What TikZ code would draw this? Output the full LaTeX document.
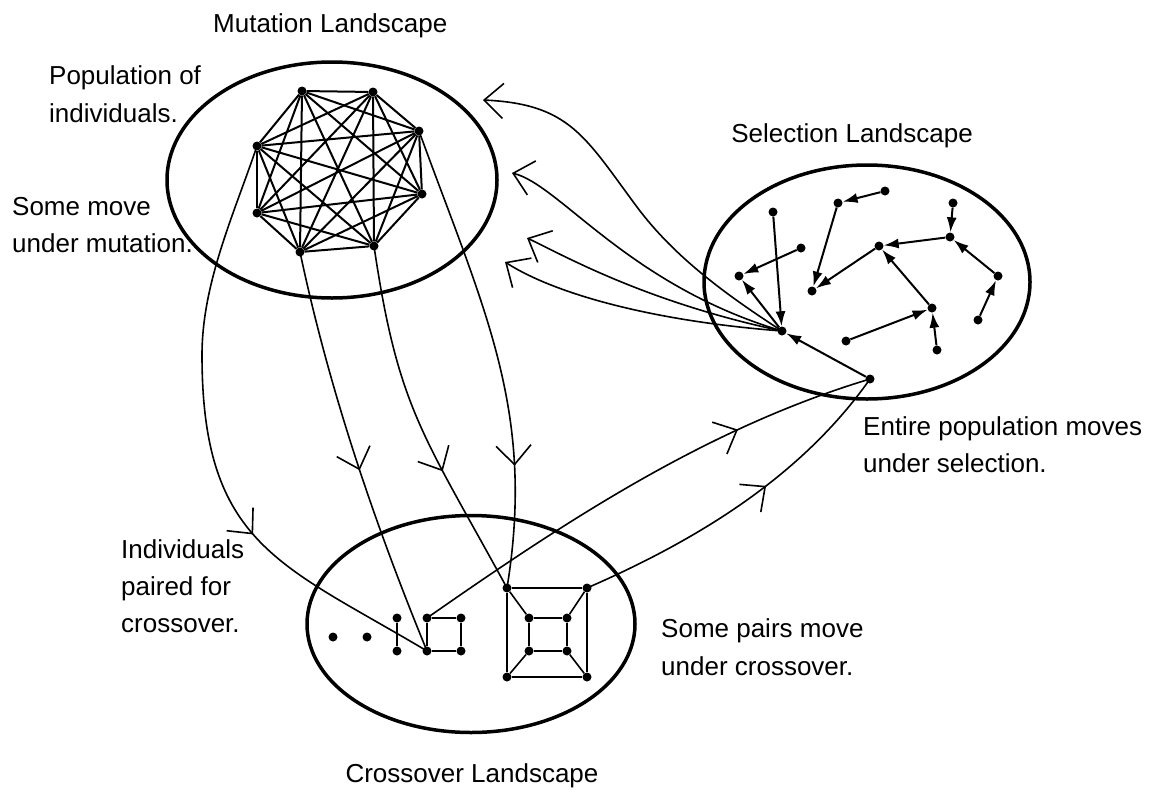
\documentclass[tikz,border=0pt]{standalone}
\usepackage{fontspec}
\setmainfont{Liberation Sans}
\usetikzlibrary{arrows.meta,decorations.markings,shapes.geometric}
\begin{document}
\begin{tikzpicture}[x=1pt,y=-1pt,
  dot/.style={circle,fill=black,inner sep=0pt,minimum size=9pt},
  land/.style={draw,ellipse,line width=3.5pt,inner sep=0pt},
  kedge/.style={line width=2pt},
  sel/.style={line width=2pt,-{Latex[length=15pt,width=10pt]}},
  flow/.style={line width=1.6pt},
  endbarb/.style={-{Straight Barb[length=19pt,width=35pt]}},
  midbarb/.style={postaction={decorate},decoration={markings,
      mark=at position #1 with {\arrow{Straight Barb[length=19pt,width=35pt]}}}},
  lbl/.style={anchor=base west,inner sep=0pt,font=\fontsize{26}{30}\selectfont},
]
\useasboundingbox (0,0) rectangle (1152,809);

% landscapes
\node[land,minimum width=330pt,minimum height=236pt] (mutL) at (332,180) {};
\node[land,minimum width=326pt,minimum height=234pt] (selL) at (867,282) {};
\node[land,minimum width=328pt,minimum height=217pt] (croL) at (471,624) {};

% mutation population (complete graph)
\node[dot] (m1) at (302,91) {};
\node[dot] (m2) at (373,92) {};
\node[dot] (m3) at (419,131) {};
\node[dot] (m4) at (422,194) {};
\node[dot] (m5) at (374,246) {};
\node[dot] (m6) at (300,252) {};
\node[dot] (m7) at (257,213) {};
\node[dot] (m8) at (257,146) {};
\foreach \i [evaluate=\i as \k using int(\i+1)] in {1,...,7}
  \foreach \j in {\k,...,8}
    \draw[kedge] (m\i) -- (m\j);

% selection population
\node[dot] (sA) at (773,212) {};
\node[dot] (sB) at (885,191) {};
\node[dot] (sC) at (838,203) {};
\node[dot] (sD) at (953,203) {};
\node[dot] (sE) at (950,237) {};
\node[dot] (sF) at (879,246) {};
\node[dot] (sG) at (801,248) {};
\node[dot] (sH) at (739,276) {};
\node[dot] (sI) at (812,291) {};
\node[dot] (sJ) at (998,276) {};
\node[dot] (sK) at (932,308) {};
\node[dot] (sL) at (978,320) {};
\node[dot] (sM) at (782,331) {};
\node[dot] (sN) at (846,341) {};
\node[dot] (sO) at (937,350) {};
\node[dot] (sP) at (870,379) {};
\draw[sel] (sB) -- (sC);
\draw[sel] (sC) -- (sI);
\draw[sel] (sD) -- (sE);
\draw[sel] (sE) -- (sF);
\draw[sel] (sF) -- (sI);
\draw[sel] (sJ) -- (sE);
\draw[sel] (sL) -- (sJ);
\draw[sel] (sK) -- (sF);
\draw[sel] (sO) -- (sK);
\draw[sel] (sN) -- (sK);
\draw[sel] (sG) -- (sH);
\draw[sel] (sM) -- (sH);
\draw[sel] (sA) -- (sM);
\draw[sel] (sP) -- (sM);

% crossover population
\node[dot] (c1) at (333,637) {};
\node[dot] (c2) at (367,637) {};
\node[dot] (c3) at (397,618) {};
\node[dot] (c4) at (397,651) {};
\node[dot] (q1) at (427,618) {};
\node[dot] (q2) at (461,618) {};
\node[dot] (q3) at (461,651) {};
\node[dot] (q4) at (427,651) {};
\node[dot] (o1) at (507,588) {};
\node[dot] (o2) at (587,588) {};
\node[dot] (o3) at (587,677) {};
\node[dot] (o4) at (507,677) {};
\node[dot] (i1) at (529,618) {};
\node[dot] (i2) at (567,618) {};
\node[dot] (i3) at (567,651) {};
\node[dot] (i4) at (529,651) {};
\draw[flow] (c3) -- (c4);
\draw[flow] (q1) -- (q2) -- (q3) -- (q4) -- (q1);
\draw[flow] (o1) -- (o2) -- (o3) -- (o4) -- (o1);
\draw[flow] (i1) -- (i2) -- (i3) -- (i4) -- (i1);
\draw[flow] (o1) -- (i1);
\draw[flow] (o2) -- (i2);
\draw[flow] (o3) -- (i3);
\draw[flow] (o4) -- (i4);

% selection -> mutation
\coordinate (t1) at (483,100);
\coordinate (t2) at (512,173);
\coordinate (t3) at (527,238);
\coordinate (t4) at (505,262);
\coordinate (k1) at (637,207);
\draw[flow,endbarb] (sM.center) .. controls (728,296) and (675,258) .. (k1)
  .. controls (585,137) and (570,104) .. (t1);
\draw[flow,endbarb] (sM.center) .. controls (628,285) and (560,185) .. (t2);
\draw[flow,endbarb] (sM.center) .. controls (645,302) and (563,255) .. (t3);
\draw[flow,endbarb] (sM.center) .. controls (652,321) and (555,294) .. (t4);

% mutation -> crossover
\coordinate (k2) at (202,355);
\draw[flow,midbarb=0.66] (m8.center) .. controls (234,214) and (202,283) .. (k2)
  .. controls (202,545) and (281,564) .. (q4.center);
\draw[flow,midbarb=0.54] (m6.center) .. controls (329,389) and (374,522) .. (q4.center);
\draw[flow,midbarb=0.64] (m5.center) .. controls (398,409) and (423,434) .. (o1.center);
\draw[flow,midbarb=0.74] (m3.center) .. controls (484,310) and (536,410) .. (o1.center);

% crossover -> selection
\draw[flow,midbarb=0.72] (q1.center) .. controls (566,521) and (707,428) .. (sP.center);
\draw[flow,midbarb=0.58] (o2.center) .. controls (697,540) and (801,477) .. (sP.center);

% labels
\node[lbl] (tMut) at (213,32) {Mutation Landscape};
\node[lbl] (tPop1) at (49,84) {Population of};
\node[lbl] (tPop2) at (49,122) {individuals.};
\node[lbl] (tSm1) at (12,215) {Some move};
\node[lbl] (tSm2) at (12,252) {under mutation.};
\node[lbl,anchor=base east] (tSel) at (973,142) {Selection Landscape};
\node[lbl] (tEn1) at (863,435) {Entire population moves};
\node[lbl] (tEn2) at (863,472) {under selection.};
\node[lbl] (tIn1) at (121,558) {Individuals};
\node[lbl] (tIn2) at (121,595) {paired for};
\node[lbl] (tIn3) at (121,632) {crossover.};
\node[lbl] (tSp1) at (661,637) {Some pairs move};
\node[lbl] (tSp2) at (661,675) {under crossover.};
\node[lbl,anchor=base] (tCro) at (472,782) {Crossover Landscape};
\end{tikzpicture}
\end{document}
